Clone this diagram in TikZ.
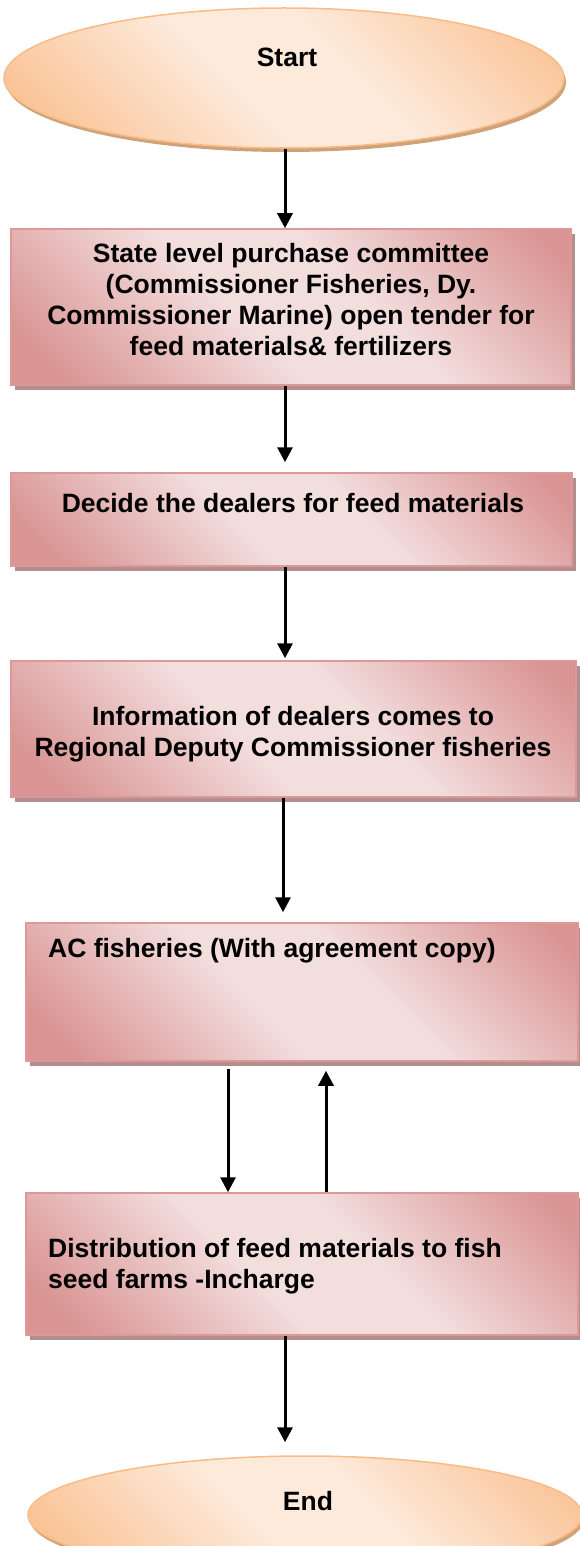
\documentclass[tikz,border=0pt]{standalone}
\usepackage{fontspec}
\setmainfont{Liberation Sans}
\usetikzlibrary{arrows.meta,shadows,shapes.geometric}
\definecolor{pdark}{RGB}{217,148,147}
\definecolor{plight}{RGB}{243,222,222}
\definecolor{pborder}{RGB}{222,152,152}
\definecolor{pshadow}{RGB}{178,142,142}
\definecolor{odark}{RGB}{250,194,148}
\definecolor{olight}{RGB}{253,234,218}
\definecolor{oborder}{RGB}{249,188,136}
\definecolor{oshadow}{RGB}{208,162,122}
\pgfdeclarehorizontalshading{pinkdiag}{100bp}{color(0bp)=(pdark); color(20bp)=(pdark); color(44bp)=(plight); color(58bp)=(plight); color(82bp)=(pdark); color(100bp)=(pdark)}
\pgfdeclarehorizontalshading{peachdiag}{100bp}{color(0bp)=(odark); color(20bp)=(odark); color(44bp)=(olight); color(58bp)=(olight); color(82bp)=(odark); color(100bp)=(odark)}
\tikzset{
  box/.style={draw=pborder, line width=1.5pt, shading=pinkdiag, shading angle=45,
    drop shadow={shadow xshift=4pt, shadow yshift=-5pt, fill=pshadow, opacity=1},
    inner sep=0pt},
  term/.style={ellipse, draw=oborder, line width=1.5pt, shading=peachdiag, shading angle=45,
    drop shadow={shadow xshift=2pt, shadow yshift=-4pt, fill=oshadow, opacity=1},
    inner sep=0pt},
  txt/.style={font=\fontsize{26.5}{31}\selectfont\bfseries, inner sep=0pt, text=black},
  arr/.style={line width=3pt, -{Triangle[length=15pt,width=15pt]}}
}
\begin{document}
\begin{tikzpicture}[x=1pt,y=1pt]
\useasboundingbox (0,0) rectangle (580,-1546);
\fill[white] (0,0) rectangle (580,-1546);
% shapes
\node[term, minimum width=560, minimum height=140] (start) at (284,-78) {};
\node[box, minimum width=560, minimum height=156] (b1) at (291,-307) {};
\node[box, minimum width=561, minimum height=93] (b2) at (291.5,-519.5) {};
\node[box, minimum width=565, minimum height=136] (b3) at (293.5,-729) {};
\node[box, minimum width=552, minimum height=138] (b4) at (302,-992) {};
\node[box, minimum width=552, minimum height=142] (b5) at (302,-1264) {};
\node[term, minimum width=554, minimum height=118] (end) at (305,-1515) {};
% texts
\node[txt] (t0) at (287,-57) {Start};
\node[txt, align=center] (t1) at (291,-300) {State level purchase committee\\(Commissioner Fisheries, Dy.\\Commissioner Marine) open tender for\\feed materials\& fertilizers};
\node[txt] (t2) at (293,-503) {Decide the dealers for feed materials};
\node[txt, align=center] (t3) at (293,-734) {Information of dealers comes to\\Regional Deputy Commissioner fisheries};
\node[txt, anchor=west] (t4) at (48,-951) {AC fisheries (With agreement copy)};
\node[txt, anchor=west, align=left] (t5) at (48,-1266) {Distribution of feed materials to fish\\seed farms -Incharge};
\node[txt] (t6) at (308,-1501) {End};
% connector x positions
\coordinate (ax) at (285,0);
\coordinate (ax2) at (283,0);
\coordinate (xl) at (228,0);
\coordinate (xr) at (326,0);
% connectors
\draw[arr] (start.south -| ax) -- (b1.north -| ax);
\draw[arr, shorten >=10pt] (b1.south -| ax) -- (b2.north -| ax);
\draw[arr, shorten >=2pt] (b2.south -| ax) -- (b3.north -| ax);
\draw[arr, shorten >=10pt] (b3.south -| ax2) -- (b4.north -| ax2);
\draw[arr, shorten <=7pt] (b4.south -| xl) -- (b5.north -| xl);
\draw[arr, shorten >=9pt] (b5.north -| xr) -- (b4.south -| xr);
\draw[arr, shorten >=13pt] (b5.south -| ax) -- (end.north -| ax);
\end{tikzpicture}
\end{document}
